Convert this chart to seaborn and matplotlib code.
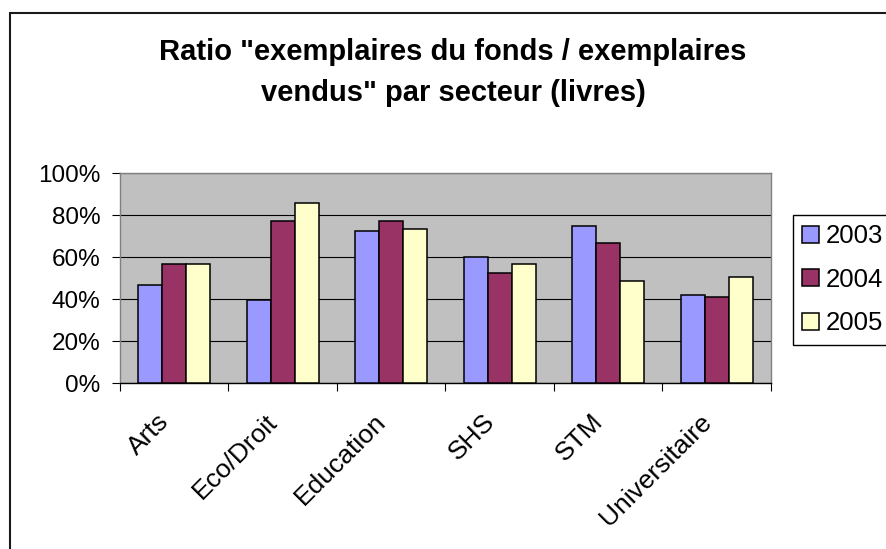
import numpy as np
import pandas as pd
import seaborn as sns
import matplotlib
matplotlib.use("Agg")
import matplotlib.pyplot as plt
import matplotlib.transforms as mtransforms
from matplotlib.patches import Rectangle
from matplotlib.ticker import PercentFormatter, FixedLocator

# Sectors and yearly ratios (in %)
secteurs = ["Arts", "Eco/Droit", "Education", "SHS", "STM", "Universitaire"]
annees = ["2003", "2004", "2005"]
ratio_2003 = [46.6, 39.7, 72.3, 59.8, 75.0, 41.8]
ratio_2004 = [56.9, 77.1, 77.1, 52.3, 66.6, 41.0]
ratio_2005 = [56.9, 85.7, 73.1, 56.9, 48.5, 50.4]
couleurs = ["#9999FF", "#993366", "#FFFFCC"]
yticks = [0, 20, 40, 60, 80, 100]

titre_l1 = 'Ratio "exemplaires du fonds / exemplaires'
titre_l2 = 'vendus" par secteur (livres)'

df = pd.DataFrame({
    "secteur": secteurs * 3,
    "annee": sum([[a] * len(secteurs) for a in annees], []),
    "ratio": ratio_2003 + ratio_2004 + ratio_2005,
})

sns.set_theme(style="white")
plt.rcParams["font.family"] = ["Liberation Sans", "DejaVu Sans"]
plt.rcParams["text.color"] = "black"
plt.rcParams["xtick.color"] = "black"
plt.rcParams["ytick.color"] = "black"

W, H = 887, 549
fig = plt.figure(figsize=(W / 100, H / 100), dpi=100)
fig.patch.set_facecolor("white")
ax = fig.add_axes([120 / W, 1 - 383 / H, 651 / W, 210 / H])

sns.barplot(data=df, x="secteur", y="ratio", hue="annee",
            palette=dict(zip(annees, couleurs)), saturation=1,
            width=0.664, gap=0, edgecolor="black", linewidth=1.1,
            errorbar=None, ax=ax, zorder=3)

ax.set_facecolor("#C0C0C0")
ax.set_xlim(-0.5, len(secteurs) - 0.5)
ax.set_ylim(0, 100)
ax.set_yticks(yticks)
ax.yaxis.set_major_formatter(PercentFormatter(decimals=0))
ax.yaxis.grid(True, color="black", linewidth=0.8, zorder=1)
ax.xaxis.grid(False)
ax.set_axisbelow(True)
ax.set_xlabel("")
ax.set_ylabel("")

# Category boundaries carry the tick marks; labels sit at the centres
ax.xaxis.set_minor_locator(FixedLocator(np.arange(-0.5, len(secteurs), 1.0)))
ax.tick_params(axis="x", which="major", length=0, labelsize=19, pad=0,
               labelcolor="black")
ax.tick_params(axis="x", which="minor", length=6, width=0.8, color="black",
               direction="out", bottom=True)
ax.tick_params(axis="y", which="major", length=6, width=0.8, color="black",
               direction="out", left=True, labelsize=17.5, pad=8,
               labelcolor="black")

offset = mtransforms.ScaledTranslation(-0.09, -0.35, fig.dpi_scale_trans)
for lab in ax.get_xticklabels():
    lab.set_rotation(45)
    lab.set_ha("right")
    lab.set_va("center")
    lab.set_rotation_mode("anchor")
    lab.set_transform(lab.get_transform() + offset)

for side in ["top", "right", "left"]:
    ax.spines[side].set_color("#808080")
    ax.spines[side].set_linewidth(1.0)
ax.spines["bottom"].set_color("black")
ax.spines["bottom"].set_linewidth(1.0)

handles, labels = ax.get_legend_handles_labels()
ax.legend(handles, labels, loc="upper left",
          bbox_to_anchor=(793 / W, 1 - 215 / H), bbox_transform=fig.transFigure,
          borderaxespad=0, frameon=True, fancybox=False, framealpha=1,
          edgecolor="black", fontsize=18.5, handlelength=0.65, handleheight=0.65,
          handletextpad=0.25, borderpad=0.36, labelspacing=0.76)
ax.get_legend().get_frame().set_linewidth(1.0)
for t in ax.get_legend().get_texts():
    t.set_color("black")

fig.text(453 / W, 1 - 60 / H, titre_l1, ha="center", va="baseline",
         fontsize=21, fontweight="bold", color="black")
fig.text(453 / W, 1 - 101 / H, titre_l2, ha="center", va="baseline",
         fontsize=21, fontweight="bold", color="black")

# Chart area frame (runs off the right and bottom edges)
fig.patches.append(Rectangle((10 / W, -1), 2, 2 - 13 / H, transform=fig.transFigure,
                             fill=False, edgecolor="#1a1a1a", linewidth=1.5))

fig.savefig("out.png", dpi=100)
